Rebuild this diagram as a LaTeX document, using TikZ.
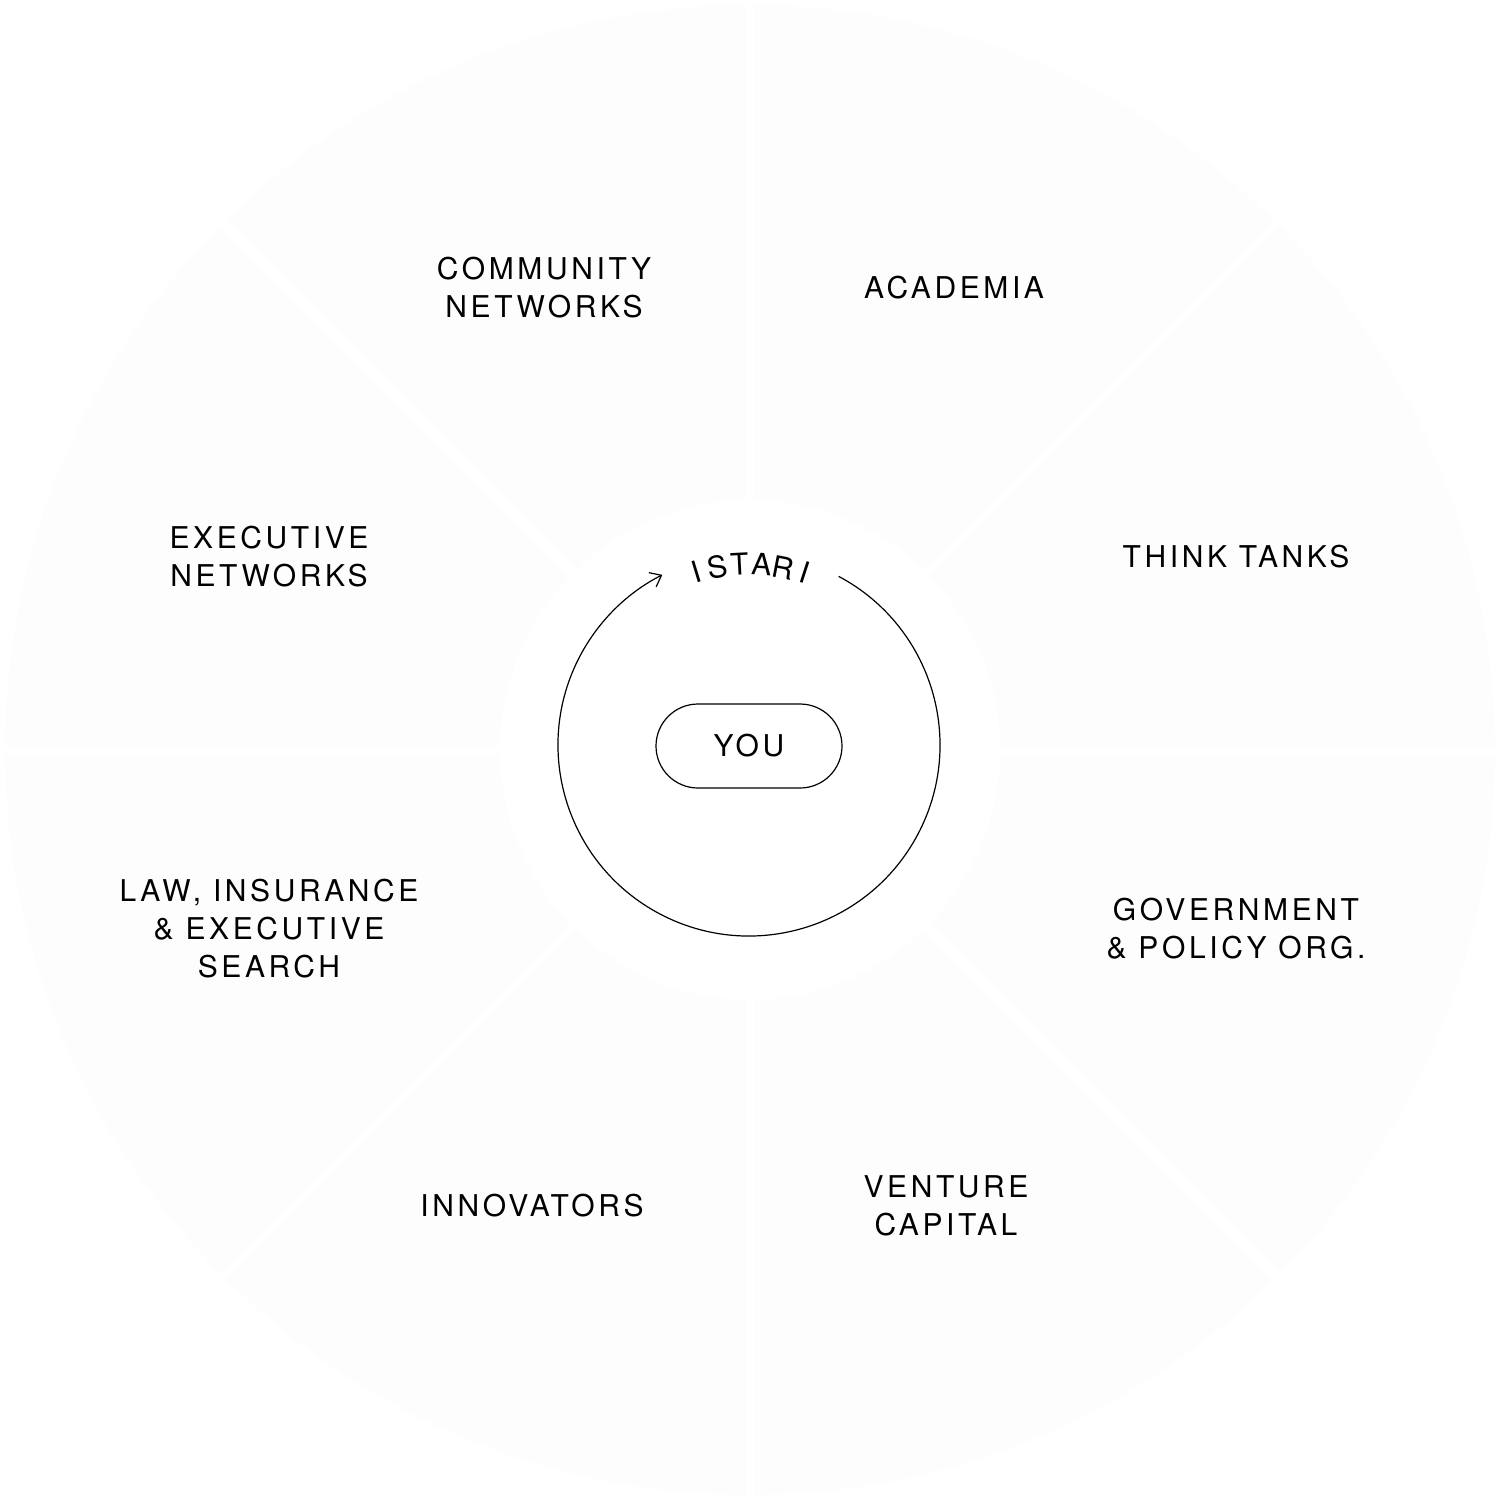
\documentclass[tikz,border=0pt]{standalone}
\usepackage{fontspec}
\setmainfont[LetterSpace=12]{TeX Gyre Heros}
\usetikzlibrary{arrows.meta}
\definecolor{seg}{HTML}{FDFDFD}
\tikzset{lbl/.style={font=\fontsize{30}{38}\selectfont, align=center, text=black}}
\begin{document}
\begin{tikzpicture}[x=1pt,y=-1pt]
\useasboundingbox (0,0) rectangle (1500,1500);
\fill[seg] (750,750) circle[radius=745];
\foreach \a in {90,135,180,225,270,315,0,45}{
  \draw[white,line width=8] (750,750) -- ++(\a:760);
}
\fill[white] (750,750) circle[radius=250];
\node[lbl] (community) at (544,288) {COMMUNITY\\NETWORKS};
\node[lbl] (academia) at (954,288) {ACADEMIA};
\node[lbl] (exec) at (269,557) {EXECUTIVE\\NETWORKS};
\node[lbl] (think) at (1236,557) {THINK TANKS};
\node[lbl] (law) at (269,929) {LAW, INSURANCE\\\& EXECUTIVE\\SEARCH};
\node[lbl] (gov) at (1236,929) {GOVERNMENT\\\& POLICY ORG.};
\node[lbl] (innov) at (532,1206) {INNOVATORS};
\node[lbl] (vc) at (946,1206) {VENTURE\\CAPITAL};
\node[draw,line width=1.2,rounded corners=42,minimum width=186,minimum height=84,font=\fontsize{30}{34}\selectfont] (you) at (749,746) {YOU};
\coordinate (c) at (749,745);
\draw[line width=1.2,-{Straight Barb[length=10,width=16]}] ([shift={(-62:191)}]c) arc[start angle=-62,end angle=243,radius=191];
\foreach \ch/\ang in {I/107,S/100,T/93,A/86,R/79,I/72}{
  \node[font=\fontsize{30}{34}\selectfont, rotate=\ang-90] at ([shift={(-\ang:181)}]c) {\ch};
}
\end{tikzpicture}
\end{document}
